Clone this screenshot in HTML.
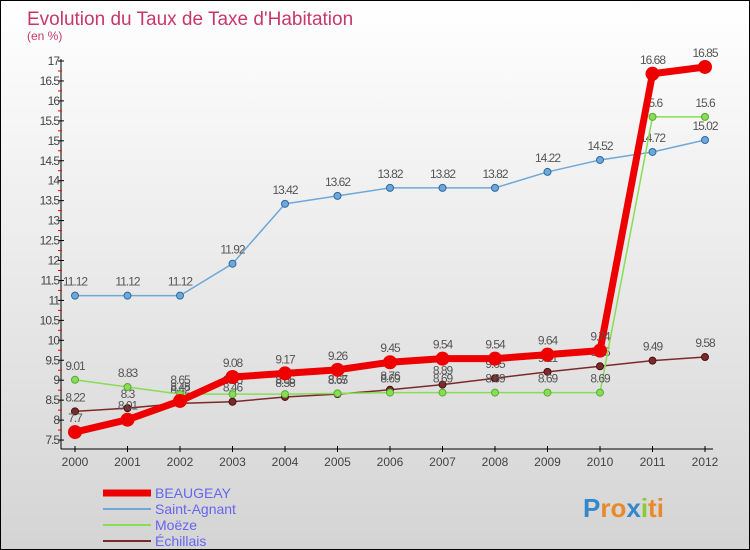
<!DOCTYPE html>
<html><head><meta charset="utf-8"><style>
body{margin:0}
#c{position:relative;width:748px;height:548px;border:1px solid #000;background:linear-gradient(#ffffff,#d4d4d4);font-family:"Liberation Sans",sans-serif;overflow:hidden}
</style></head><body>
<div id="c">
<svg id="s" width="748" height="548" xmlns="http://www.w3.org/2000/svg"></svg>
</div>
<script>
const years=["2000","2001","2002","2003","2004","2005","2006","2007","2008","2009","2010","2011","2012"];
const beaugeay=[7.7,8.01,8.48,9.08,9.17,9.26,9.45,9.54,9.54,9.64,9.74,16.68,16.85];
const saintAgnant=[11.12,11.12,11.12,11.92,13.42,13.62,13.82,13.82,13.82,14.22,14.52,14.72,15.02];
const moeze=[9.01,8.83,8.65,8.65,8.65,8.67,8.69,8.69,8.69,8.69,8.69,15.6,15.6];
const echillais=[8.22,8.3,8.42,8.46,8.58,8.65,8.76,8.89,9.05,9.21,9.35,9.49,9.58];
const yTicks=[7.5,8,8.5,9,9.5,10,10.5,11,11.5,12,12.5,13,13.5,14,14.5,15,15.5,16,16.5,17];
const seriesNames=["BEAUGEAY","Saint-Agnant","Moëze","Échillais"];
const NS="http://www.w3.org/2000/svg";
const svg=document.getElementById('s');
function X(i){return 74+i*52.5;}
function Y(v){return 60+(17-v)*39.9;}
function el(t,a,txt){const e=document.createElementNS(NS,t);for(const k in a)e.setAttribute(k,a[k]);if(txt!==undefined)e.textContent=txt;svg.appendChild(e);return e;}
let t=el('text',{x:26,y:24,'font-size':19,fill:'#c8376b'},'Evolution du Taux de Taxe d\'Habitation');

t=el('text',{x:26,y:39,'font-size':12,fill:'#c8376b'},'(en %)');

let a=el('line',{x1:60,y1:58,x2:60,y2:448,stroke:'#000'});

a=el('line',{x1:60,y1:448,x2:712,y2:448,stroke:'#000'});

yTicks.forEach((v,i)=>{
  el('line',{x1:57,y1:Y(v),x2:63,y2:Y(v),stroke:'#000'});
  if(i<yTicks.length-1)el('line',{x1:57,y1:Y(v+0.25),x2:61,y2:Y(v+0.25),stroke:'#e00'});
  const l=el('text',{x:58,y:Y(v)+4,'font-size':12,fill:'#444','text-anchor':'end','letter-spacing':'-1'},String(v));
  
});
years.forEach((y,i)=>{
  el('line',{x1:X(i),y1:445,x2:X(i),y2:451,stroke:'#000'});
  const l=el('text',{x:X(i),y:465,'font-size':12,fill:'#444','text-anchor':'middle'},y);
  
});
function series(data,color,w,r,name,stroke){
  const g=document.createElementNS(NS,'g');svg.appendChild(g);
  
  
  const p=document.createElementNS(NS,'polyline');
  p.setAttribute('points',data.map((v,i)=>X(i)+','+Y(v)).join(' '));
  p.setAttribute('fill','none');p.setAttribute('stroke',color);p.setAttribute('stroke-width',w);p.setAttribute('stroke-linejoin','round');
  g.appendChild(p);
  data.forEach((v,i)=>{
    const c=document.createElementNS(NS,'circle');
    c.setAttribute('cx',X(i));c.setAttribute('cy',Y(v));c.setAttribute('r',r);c.setAttribute('fill',color);c.setAttribute('stroke',stroke);
    
    
    g.appendChild(c);
    const l=document.createElementNS(NS,'text');
    l.setAttribute('x',X(i));l.setAttribute('y',Y(v)-10);l.setAttribute('font-size',12);l.setAttribute('fill','#555');l.setAttribute('text-anchor','middle');l.setAttribute('letter-spacing','-1');
    l.textContent=String(v);
    
    
    g.appendChild(l);
  });
}
series(saintAgnant,'#6fa8d8',1.5,3.5,'series-saint-agnant','#2a6aa0');
series(echillais,'#7a2a2a',1.5,3.5,'series-echillais','#4a1010');
series(moeze,'#88dd55',1.5,3.5,'series-moeze','#55aa33');
series(beaugeay,'#ee0000',7,7,'series-beaugeay','none');
const leg=[['#ee0000',7],['#6fa8d8',2],['#88dd55',2],['#7a2a2a',2]];
seriesNames.forEach((n,i)=>{
  const y=492+i*16;
  const g=document.createElementNS(NS,'g');svg.appendChild(g);
  
  
  const l=document.createElementNS(NS,'line');
  l.setAttribute('x1',102);l.setAttribute('x2',150);l.setAttribute('y1',y);l.setAttribute('y2',y);l.setAttribute('stroke',leg[i][0]);l.setAttribute('stroke-width',leg[i][1]);
  g.appendChild(l);
  const tx=document.createElementNS(NS,'text');
  tx.setAttribute('x',154);tx.setAttribute('y',y+5);tx.setAttribute('font-size',14);tx.setAttribute('fill','#6666ee');tx.textContent=n;
  g.appendChild(tx);
});
const logo=el('text',{x:582,y:516,'font-size':26,'font-weight':'bold',fill:'#e8892a'},'');

[['P','#3388cc'],['ro','#e8892a'],['x','#3388cc'],['i','#88cc33'],['ti','#e8892a']].forEach(p=>{const s=document.createElementNS(NS,'tspan');s.setAttribute('fill',p[1]);s.textContent=p[0];logo.appendChild(s);});
</script>
</body></html>
